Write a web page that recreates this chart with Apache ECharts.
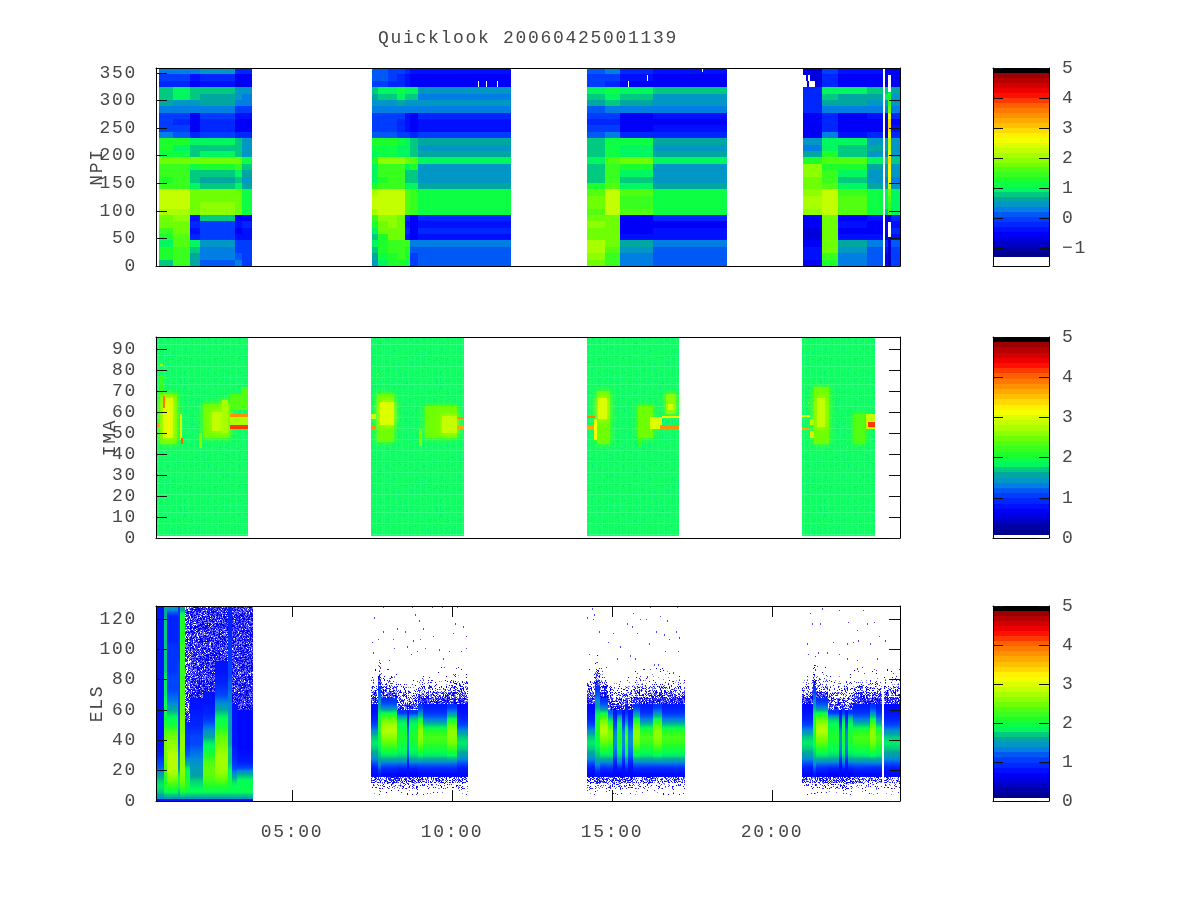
<!DOCTYPE html>
<html><head><meta charset="utf-8">
<style>html,body{margin:0;padding:0;background:#fff}#c{width:1200px;height:900px}</style>
<script src="https://cdn.jsdelivr.net/npm/echarts@6/dist/echarts.min.js"></script></head><body><div id="c"></div>
<script>
// ---------- tick labels ----------
const titleText='Quicklook 20060425001139';
const timeTicks=[5,10,15,20];
const timeLabels=['05:00','10:00','15:00','20:00'];
const npiTicks=[0,50,100,150,200,250,300,350];
const imaTicks=[0,10,20,30,40,50,60,70,80,90];
const elsTicks=[0,20,40,60,80,100,120];
const npiBarTicks=[-1,0,1,2,3,4,5];
const barTicks=[0,1,2,3,4,5];

// ---------- NPI: log counts, 31 sectors, listed top sector first, one list per time span ----------
const npiEdges1=[0.84,1.29,1.81,2.13,3.22,3.43,3.74];
const npiPass1=[
[.2,0,-.2,.8,.7,.6,.3,0,-.1,0,.2,1.2,1.2,1.1,1.8,1.5,1.4,1.3,1.4,2.2,2.3,2.3,2.1,1.8,1.7,1.5,1.2,1,1.2,1.3,.8],
[.2,-.1,-.3,1,.9,.5,.3,-.1,-.2,-.1,.1,1.2,1,1.1,1.8,1.5,1.4,1.4,1.5,2.2,2.3,2.3,2.1,1.9,1.8,1.7,1.6,1.6,1.5,1.5,1.5],
[.3,-.4,-.5,.8,.7,.5,.2,-.5,-.6,-.6,-.2,.9,.8,.8,1.7,1.1,.7,.7,.9,1.7,1.8,1.8,1.7,-.4,-.2,-.4,-.2,1,.8,.6,.6],
[.4,-.3,-.4,.8,.6,.6,.2,-.1,-.3,-.3,0,1,.8,.9,1.7,1.2,.8,.6,.8,1.75,1.75,1.85,1.85,.7,0,0,-.1,.4,.3,.2,.1],
[-.3,-.6,-.7,.5,.4,.2,0,-.4,-.6,-.6,-.3,.8,.8,.7,1.8,1.5,1,.8,.9,1.75,1.7,1.7,1.7,-.5,-.4,-.5,-.4,0,0,.1,.3],
[-.3,-.5,-.6,.4,.3,.2,0,-.4,-.6,-.6,-.3,.5,.5,.5,1.1,.7,.6,.5,.6,1.15,1.15,1.15,1.15,-.5,-.3,-.4,-.4,0,0,-.1,-.1]];
const npiEdges2=[7.5,7.7,8.01,8.27,8.53,8.69,8.95,11.84];
const npiPass2=[
[.1,.1,-.1,.8,.6,.5,.2,0,-.1,0,.1,1.2,1.1,1,1.3,1,1,.9,1.2,2.15,2.25,2.25,2.15,1.5,1.2,1,.7,.9,.7,.6,.5],
[.1,.1,-.1,.9,.7,.5,.2,0,-.1,0,.1,1.2,1.1,1.1,1.9,1.5,1.4,1.3,1.4,2.25,2.3,2.3,2.25,1.9,1.8,1.7,1.3,1.3,1.2,1.1,.9],
[0,0,-.2,.9,.7,.5,.2,0,-.1,0,.1,1.2,1.1,1.1,1.9,1.5,1.4,1.4,1.5,2.25,2.3,2.3,2.25,1.9,1.9,1.8,1.7,1.5,1.4,1.3,1.2],
[-.1,-.2,-.3,1.1,1,.6,.2,-.1,-.3,-.2,0,1.1,.9,1,1.9,1.5,1.4,1.4,1.5,2.25,2.3,2.3,2.25,1.8,1.8,1.8,1.7,1.5,1.5,1.4,1.3],
[-.3,-.4,-.4,.9,.8,.5,.2,-.4,-.4,-.4,-.1,1,.9,.9,1.8,.9,.7,.7,.9,1.55,1.6,1.6,1.55,-.3,-.4,-.3,-.4,1.4,1.3,1.2,1.1],
[-.4,-.6,-.6,.9,.8,.4,.2,-.6,-.6,-.6,-.3,.8,.7,.7,1.6,1.2,.8,.7,.9,1.4,1.4,1.4,1.4,-.5,-.5,-.5,-.5,.2,.1,0,-.1],
[-.4,-.5,-.6,.5,.3,.5,.2,-.2,-.4,-.4,-.1,.6,.4,.6,.9,.5,.5,.4,.6,1.05,1.05,1.05,1.05,-.2,-.4,-.3,-.4,.2,.1,.1,.1]];
const npiEdges3=[14.23,14.78,15.25,16.29,18.58];
const npiPass3=[
[.1,0,-.1,1,.8,.6,.1,-.1,-.2,-.1,.1,.7,.8,.8,1,.7,.8,.7,1.2,1.6,1.75,1.75,1.65,1.8,1.9,1.8,1.7,2.1,2.1,1.9,1.8],
[.2,0,-.2,1.1,.9,.7,.2,-.1,-.2,-.1,.2,1.1,1.1,1.1,1.6,1.5,1.5,1.4,1.6,2.3,2.3,2.3,2.2,1.8,1.8,1.7,1.7,1.7,1.6,1.4,1.4],
[-.3,-.4,-.5,.9,.7,.6,.2,-.5,-.5,-.5,-.2,1.1,.9,.9,1.7,1.2,.9,.8,.9,1.6,1.5,1.5,1.6,-.5,-.6,-.5,-.4,.6,.5,.3,.2],
[-.4,-.5,-.6,.8,.5,.5,.2,-.4,-.5,-.4,-.2,.6,.5,.6,.9,.5,.5,.4,.6,1.05,1.05,1.05,1.05,-.3,-.5,-.4,-.4,.2,.1,.1,.1]];
const npiEdges4=[20.98,21.55,22.07,22.96,23.46];
const npiPass4=[
[-.7,-.7,-.7,-.2,-.2,-.2,-.3,-.6,-.6,-.6,-.5,.5,.3,.6,1.2,2,1.9,1.8,1.8,1.95,2.05,2.05,1.95,-.6,-.6,-.7,-.7,-.5,-.4,-.4,-.5],
[0,-.2,-.3,1,.8,.6,.2,-.2,-.3,-.2,.2,1,1,1.2,1.6,1.2,1.5,1.5,1.6,2.25,2.3,2.3,2.25,1.8,1.8,1.7,1.7,1.8,1.7,1.4,1.2],
[-.4,-.5,-.5,.9,.6,.6,.2,-.5,-.6,-.6,-.4,.9,.8,.8,1.6,1.2,.9,.7,.9,1.5,1.55,1.55,1.55,-.5,-.4,-.6,-.4,.6,.5,.2,.2],
[-.4,-.5,-.5,.8,.6,.5,.2,-.4,-.5,-.5,-.3,.5,.6,.4,.9,.6,.5,.4,.6,1.05,1.05,1.05,1.05,-.4,-.5,-.5,-.4,.2,.1,.1,.1]];
const npiEdges5=[23.53,23.64,23.71,24];
const npiPass5=[
[-.5,-.5,-.5,.8,.9,.4,.3,-.6,-.6,-.6,-.5,.5,.4,.3,.7,.5,.4,.3,.5,.9,.9,.9,.85,-.6,-.6,-.5,-.7,-.3,-.4,-.5,-.5],
[-.6,-.7,-.7,1,1.3,1.5,1.8,2.6,3,3,2.6,2.2,2.2,2.5,2.9,2.7,2.6,2.6,2.3,1.75,1.65,1.5,1.4,-.8,-.8,-.9,-.7,-.8,-.9,-.9,-.9],
[-.5,-.6,-.6,.6,.5,.5,.2,-.3,-.5,-.4,-.2,.5,.4,.5,.8,.4,.5,.3,.5,1,1,1,1,-.3,-.4,-.3,-.4,.1,0,0,0]];
// gaps without data: [t0,t1,y0,y1]
const npiGaps=[[20.94,21.05,335,347],[21.12,21.2,335,347],[20.98,21.1,324,335],[21.17,21.33,324,335],[23.64,23.71,315,347],[23.64,23.71,52,80],[10.8,10.82,324,335],[11.05,11.07,324,335],[11.42,11.44,324,335],[15.5,15.53,324,335],[16.1,16.13,335,347],[17.8,17.83,352,359]];

// ---------- IMA: background level per pass, then the readable features ----------
const imaPasses=[[0.75,3.64],[7.48,10.38],[14.22,17.1],[20.94,23.22]];
const imaBackground=1.9;
const imaFeatures=[
// pass 1
[.87,1.4,45,69,2.5],[.98,1.29,48,67,2.95],[.96,1.04,62,68,3.9],[1.08,1.18,50,60,3.3],[.75,.83,53,55,3.8],[.87,.98,69,78,2.25],[.88,.96,82,83,2.7],
[1.5,1.56,47,59,3.0],[1.53,1.6,45,48,4.0],[2.1,2.2,43,50,2.6],[2.23,3.06,48,64,2.5],[2.5,2.8,51,60,2.9],[2.8,3.0,50,66,2.75],[3.06,3.64,61,69,2.35],[3.06,3.64,54,58,2.75],[3.06,3.64,57.7,59.3,3.8],[3.06,3.64,52.2,53.8,4.15],[3.4,3.64,66,72,2.4],
// pass 2
[7.65,8.2,46,69,2.5],[7.75,8.2,54,65,2.95],[7.48,7.62,52,53.5,3.8],[7.48,7.62,57,59,2.8],[8.98,9.05,44,52,2.6],[9.15,10.15,48,63,2.5],[9.68,10.15,50,58.5,2.85],[10.15,10.38,57,58,3.8],[10.15,10.38,52,53.6,3.7],[7.65,7.72,78,79,2.6],
// pass 3
[14.52,14.94,45,70,2.5],[14.57,14.83,57,67,2.95],[14.22,14.46,57.5,58.5,3.9],[14.22,14.44,51.8,53.5,3.7],[14.44,14.52,46.7,57,3.1],[15.8,15.95,44,48,2.2],[15.82,16.29,48,63,2.5],[16.2,16.55,52,58,2.95],[16.55,17.1,57.5,58.5,3.3],[16.5,17.1,52,54,3.8],[16.7,17,59,69,2.55],[16.75,16.9,61,64,3.0],
// pass 4
[20.94,21.2,58,58.6,3.1],[20.94,21.2,51.8,52.7,3.7],[21.2,21.35,54,57,3.0],[21.2,21.35,48,51,3.2],[21.3,21.77,45,72,2.5],[21.4,21.66,53,67,2.9],[22.33,22.35,43,44,2.6],[22.55,22.9,45,59,2.3],[22.93,23.22,52,59,2.85],[23.0,23.22,53,55.5,4.1],[20.98,21.0,64,65,2.7],[21.12,21.14,64,65,2.7]];

// ---------- ELS: level by 4-unit energy row, lowest first. A negative value is a sparse row: that share of the pixels is filled ----------
const elsD=[0,-.03,-.15,-.5,.75,.85,1.2,1.5,1.7,1.8,1.7,1.4,1.1,.9,.8,.75,-.9,-.6,-.35,-.15,-.04,-.01,0,0];
const elsQ=[0,-.03,-.15,-.5,.75,.95,1.4,1.8,2,2.2,2.3,2.1,1.7,1.3,1,.85,-.9,-.6,-.35,-.15,-.04,-.01,0,0];
const elsH=[0,-.05,-.2,-.6,.75,.95,1.4,1.8,2.1,2.4,2.6,2.8,2.7,2.4,1.9,1.3,1,-.85,-.55,-.3,-.1,-.02,0,0];
const elsS=[0,-.08,-.3,-.7,.85,1.2,1.5,1.7,1.8,1.9,2,2.1,2.1,2,1.8,1.6,1.4,1.2,1,-.9,-.6,-.3,-.12,-.03];
const elsM=[0,-.05,-.3,-.7,.7,.9,1.4,1.75,1.9,2,2.1,2,1.9,1.7,1,-.8,-.55,-.35,-.15,-.05,-.01,0,0,0];
const elsC=[0,-.05,-.3,-.7,.75,.8,.9,1.2,1.3,1.4,1.4,1.3,1.1,.9,.8,-.75,-.5,-.3,-.15,-.05,-.01,0,0,0];
const elsB=[0,-.03,-.15,-.5,.75,.95,1.4,1.85,2.2,2.5,2.6,2.6,2.4,1.9,1.4,1,-.9,-.65,-.4,-.2,-.05,-.01,0,0];
const elsT=[0,-.05,-.25,-.65,.75,1,1.4,1.8,2,2.3,2.5,2.5,2.2,1.7,1.2,-.85,-.65,-.45,-.25,-.08,-.02,0,0,0];
const elsSpans2=[[7.47,7.7,elsD],[7.7,7.77,elsS],[7.77,8.27,elsH],[8.27,8.58,elsM],[8.58,8.67,elsC],[8.67,8.95,elsM],[8.95,9.1,elsB],[9.1,9.83,elsQ],[9.83,10.17,elsB],[10.17,10.51,elsD]];
const elsSpans3=[[14.23,14.47,elsD],[14.47,14.63,elsS],[14.63,14.89,elsH],[14.89,15.04,elsT],[15.04,15.15,elsC],[15.15,15.3,elsM],[15.3,15.41,elsC],[15.41,15.51,elsQ],[15.51,15.67,elsC],[15.67,15.88,elsB],[15.88,16.29,elsQ],[16.29,16.55,elsB],[16.55,17.28,elsQ]];
const elsSpans4=[[20.95,21.29,elsD],[21.29,21.38,elsS],[21.38,21.76,elsH],[21.76,22.08,elsM],[22.08,22.18,elsC],[22.18,22.28,elsM],[22.28,22.39,elsC],[22.39,22.54,elsM],[22.54,23.06,elsQ],[23.06,23.25,elsB],[23.25,23.45,elsQ],[23.51,24,elsD]];
// first pass, all 32 rows up to 128
const elsEdges1=[.75,1,1.1,1.45,1.5,1.66,1.81,2.23,2.59,3.01,3.11,3.27,3.77];
const elsPass1=[
[1.4,1.7,1.8,1.7,1.5,1.2,1.1,.9,.8,.8,.8,.8,.8,.8,.8,.8,.8,.8,.8,.8,.8,.8,.8,.8,.8,.8,.8,.8,.8,.8,.8,.8],
[1.5,1.9,2.1,2.1,2.2,2.3,2.4,2.5,2.5,2.5,2.4,2.3,2.1,2,1.9,1.9,1.9,1.8,1.8,1.8,1.8,1.7,1.7,1.7,1.7,1.7,1.7,1.7,1.7,1.7,1.6,1.6],
[1.5,1.9,2.2,2.5,2.7,2.8,2.8,2.8,2.7,2.6,2.5,2.3,2,1.9,1.7,1.5,1.3,1.2,1.1,1.1,1.1,1,1,1,1,1,.9,.9,.9,.9,.9,1.4],
[1.5,1.7,1.9,1.9,1.8,1.5,1.4,1.3,1.2,1.1,1.1,1.1,1.1,1.1,1.1,1.1,1.1,1.1,1.1,1.1,1.1,1.1,1.1,1,1,1,1,1,1,1,1,1],
[1.5,2,2.3,2.5,2.6,2.6,2.6,2.6,2.6,2.6,2.6,2.5,2.5,2.5,2.4,2.4,2.4,2.3,2.3,2.3,2.2,2.2,2.2,2.2,2.2,2.2,2.1,2.1,2.1,2.1,2,1.6],
[1.5,1.9,2.1,2,1.9,1.8,1.5,1.2,1.1,1,1,.95,.9,-.9,-.8,-.8,-.75,-.75,-.75,-.75,-.75,-.7,-.7,-.7,-.7,-.7,-.7,-.7,-.7,-.75,-.75,-.75],
[1.5,1.9,1.8,1.7,1.5,1.5,1.4,1.3,1.2,1.1,1.1,1,.9,.9,.85,.8,.8,-.96,-.95,-.92,-.92,-.92,-.92,-.92,-.92,-.92,-.92,-.92,-.92,-.92,-.92,-.92],
[1.5,1.9,2.1,2.3,2.4,2.4,2.3,2.1,1.9,1.8,1.6,1.4,1.2,1,.9,.85,.8,.8,-.96,-.95,-.93,-.93,-.93,-.93,-.93,-.92,-.92,-.92,-.92,-.92,-.92,-.92],
[1.5,1.9,2.1,2.4,2.6,2.7,2.7,2.7,2.6,2.5,2.4,2.2,2,1.9,1.7,1.5,1.3,1.1,1,.9,.85,.8,.8,-.96,-.95,-.95,-.95,-.93,-.93,-.93,-.93,-.93],
[1.5,1.9,2,2,1.9,1.8,1.7,1.7,1.7,1.6,1.6,1.5,1.5,1.5,1.4,1.4,1.3,1.3,1.2,1.2,1.1,1.1,1.1,1,1,1,1,.9,.9,.9,.9,.9],
[1.5,1.9,1.9,1.7,1.4,1.1,1,.9,.85,.8,.8,.8,.8,.8,.8,.8,-.96,-.96,-.96,-.96,-.96,-.96,-.96,-.96,-.96,-.96,-.96,-.96,-.96,-.96,-.96,-.96],
[1.5,1.9,1.9,1.85,1.6,1.1,.85,.8,.75,.75,.75,.75,.75,.75,.75,-.96,-.96,-.96,-.96,-.96,-.96,-.96,-.96,-.96,-.96,-.96,-.96,-.96,-.96,-.96,-.96,-.96]];
// thin blue floor under the first pass: [t0,t1,y0,y1,value]
const elsFloor=[.75,3.77,0,1.5,.8];
// lone counts above the main population: [hour, energy row]
const elsDots=[[7.57,120],[7.83,111],[8.29,113],[8.54,111],[8.17,106],[7.7,106],[7.51,104],[7.54,97],[7.73,92],[8.02,92],[8.19,100],[8.6,101],[8.71,96],[8.9,98],[9.17,100],[9.42,108],[9.6,99],[9.92,98],[9.71,93],[10.04,110],[10.33,114],[10.44,108],[10.27,98],[10.44,100],[10.09,116],[8.98,118],[8.84,122],[9.1,113],[8.79,105],[9,106],[7.85,127],[8.74,127],[9.36,127],[9.68,127],[10.15,127],
[14.23,120],[14.44,122],[14.42,119],[14.58,111],[15.04,110],[14.89,104],[15.48,116],[15.62,114],[15.86,119],[16.07,119],[16.5,121],[16.71,118],[16.61,109],[17,111],[16.78,106],[17.1,107],[16.38,111],[15.77,110],[15.25,101],[16.17,103],[16.66,98],[17.05,98],[15.57,95],[15.72,93],[16.3,89],[16.45,89],[16.19,86],[16.92,84],[15.67,123],[14.37,126],[16.19,127],[17.02,127],[14.28,96],[15.15,93],
[21.19,123],[21.55,126],[22.08,125],[22.84,125],[21.24,116],[21.5,116],[22.37,117],[22.65,112],[22.96,116],[23.19,117],[23.33,108],[23.53,105],[23.06,103],[22.7,105],[22.54,104],[22.34,103],[21.92,104],[21.71,97],[21.45,97],[21.09,103],[21.14,96],[22.08,96],[22.34,93],[22.65,92],[23.27,93],[22.65,86],[23.19,86],[21.4,88]];

// ---------- build cells [t0,t1,y0,y1,value,...] ----------
const FONT='"Liberation Mono"', TXT='#474747';
const npiCells=[], imaCells=[], elsCells=[];
function addNpi(edges,cols){const h=359/31;cols.forEach((c,i)=>c.forEach((v,r)=>{const k=30-r;npiCells.push([edges[i],edges[i+1],k*h,(k+1)*h,v]);}));}
addNpi(npiEdges1,npiPass1);addNpi(npiEdges2,npiPass2);addNpi(npiEdges3,npiPass3);addNpi(npiEdges4,npiPass4);addNpi(npiEdges5,npiPass5);
npiGaps.forEach(g=>npiCells.push([g[0],g[1],g[2],g[3],null]));
imaPasses.forEach(p=>imaCells.push([p[0],p[1],1,96,imaBackground]));
imaFeatures.forEach(f=>imaCells.push(f));
function addEls(t0,t1,col){col.forEach((v,r)=>{if(v!==0)elsCells.push([t0,t1,r*4,(r+1)*4,v,r>0?col[r-1]:v,r<col.length-1?col[r+1]:v]);});}
elsPass1.forEach((c,i)=>addEls(elsEdges1[i],elsEdges1[i+1],c));
[elsSpans2,elsSpans3,elsSpans4].forEach(s=>s.forEach(x=>addEls(x[0],x[1],x[2])));
elsCells.push(elsFloor);
elsDots.forEach(d=>elsCells.push([d[0],d[0]+.03,d[1],d[1]+1,-1]));

// ---------- colour scale ----------
const stops=[[0,0,0,130],[.125,0,0,255],[.21,0,70,255],[.26,0,140,220],[.31,0,170,150],[.36,0,255,90],[.41,30,255,40],[.495,120,255,0],[.56,190,255,0],[.63,255,255,0],[.71,255,180,0],[.8,255,100,0],[.865,255,0,0],[.966,150,0,0],[.98,120,0,0],[.985,0,0,0],[1,0,0,0]];
const LEVELS=38;
function colorOf(v,lo,hi,smooth){
  let f=(v-lo)/(hi-lo); f=Math.max(0,Math.min(1,f));
  if(!smooth&&f<.985) f=(Math.floor(f*LEVELS)+.5)/LEVELS;
  for(let i=1;i<stops.length;i++){ if(f<=stops[i][0]){const a=stops[i-1],b=stops[i],u=(f-a[0])/(b[0]-a[0]);
    return 'rgb('+[1,2,3].map(k=>Math.round(a[k]+(b[k]-a[k])*u)).join(',')+')';}}
  return '#000';
}
// textures: the speckle of sparse rows and the fine mottling of the IMA map
function hash(x,y){let h=(x*374761393+y*668265263)|0;h=Math.imul(h^(h>>>13),1274126177);return ((h^(h>>>16))>>>0)/4294967296;}
function makeTexture(fn){const c=document.createElement('canvas');c.width=c.height=128;const x=c.getContext('2d');const im=x.createImageData(128,128);
  for(let j=0;j<128;j++)for(let i=0;i<128;i++){const p=fn(i,j),k=(j*128+i)*4;im.data[k]=p[0];im.data[k+1]=p[1];im.data[k+2]=p[2];im.data[k+3]=p[3];}
  x.putImageData(im,0,0);return c;}
const sparseCache={};
function sparseFill(p){const q=Math.round(p*50)/50; if(q>=1) return 'rgb(70,70,255)'; if(!sparseCache[q]) sparseCache[q]=makeTexture((i,j)=>{const h=hash(i,j);const on=h<q;
   if(!on) return [0,0,0,0]; const s=h/q; return s<.45?[0,0,235,255]:s<.75?[50,50,255,255]:[130,130,255,255];}); return {image:sparseCache[q],repeat:'repeat'};}
const imaTex=makeTexture((i,j)=>{const h=hash(i+7,j+3);const lineH=(j%11===0),lineV=(i%6===0);
   if(lineH) return [50,255,125,255]; if(lineV) return [32,255,112,255]; return h<.1?[8,238,120,255]:[15,255,100,255];});
function softShadow(c){return {shadowBlur:7,shadowColor:c};}

function cellSeries(data,lo,hi,gi,name,mode){
  return {type:'custom',name:name,xAxisIndex:gi*2,yAxisIndex:gi*2,data:data,z:1,silent:true,animation:false,clip:true,progressive:0,
    dimensions:['t0','t1','y0','y1','v'],encode:{x:[0,1],y:[2,3]},
    renderItem:(p,api)=>{
      const d=data[p.dataIndex];
      const a=api.coord([d[0],d[2]]),b=api.coord([d[1],d[3]]);
      const x0=Math.round(a[0]),x1=Math.max(x0+1,Math.round(b[0])),y1=Math.round(a[1]),y0=Math.min(y1-1,Math.round(b[1]));
      const raw=d[4]; let style={};
      if(raw===null) style.fill='#fff';
      else if(mode==='els'&&raw<0) style.fill=sparseFill(-raw);
      else if(mode==='els'&&d.length>5){
        const up=d[6]<0?raw:(raw+d[6])/2, dn=d[5]<0?raw:(raw+d[5])/2;
        style.fill={type:'linear',x:0,y:0,x2:0,y2:1,colorStops:[{offset:0,color:colorOf(up,lo,hi,true)},{offset:.5,color:colorOf(raw,lo,hi,true)},{offset:1,color:colorOf(dn,lo,hi,true)}]};
      }
      else if(mode==='ima'&&d.length===5&&raw===imaBackground&&d[3]===96) style.fill={image:imaTex,repeat:'repeat'};
      else {
        style.fill=colorOf(raw,lo,hi);
        if(mode==='ima'){
          const edge=imaPasses.some(q=>Math.abs(d[0]-q[0])<.02||Math.abs(d[1]-q[1])<.02);
          const big=(d[1]-d[0])>.12&&(d[3]-d[2])>6;
          if(big&&!edge) Object.assign(style,softShadow(style.fill));
        }
      }
      return {type:'rect',shape:{x:x0,y:y0,width:x1-x0,height:y1-y0},style:style};
    }};
}
function barCells(lo,hi){const out=[];const n=LEVELS;for(let i=0;i<n;i++){const a=lo+(hi-lo)*i/n,b=lo+(hi-lo)*(i+1)/n;out.push([0,1,a,b,(a+b)/2]);}
  out.push([0,1,lo+(hi-lo)*.985,hi,hi]);return out;}

const panels=[{top:68,h:198,max:359,ticks:npiTicks,name:'NPI',gap:49,xt:[]},{top:337,h:201,max:96,ticks:imaTicks,name:'IMA',gap:36,xt:[]},{top:606,h:195,max:128.5,ticks:elsTicks,name:'ELS',gap:49,xt:timeTicks}];
const grid=[],xAxis=[],yAxis=[],series=[];
const line={show:true,lineStyle:{color:'#000',width:1},onZero:false};
const tick=(vals,show=true)=>({show:show,inside:true,length:11,customValues:vals,lineStyle:{color:'#111',width:1}});
const lab=(extra)=>Object.assign({fontFamily:FONT,fontSize:18,color:TXT},extra);
panels.forEach((p,i)=>{
  grid.push({left:156,width:744,top:p.top,height:p.h});
  const showLab=i===2;
  xAxis.push({type:'value',gridIndex:i,min:.75,max:24,position:'bottom',z:5,axisLine:line,splitLine:{show:false},axisTick:tick(p.xt,p.xt.length>0),
    axisLabel:lab({show:showLab,margin:21,customValues:p.xt,formatter:v=>timeLabels[timeTicks.indexOf(v)]||''})});
  xAxis.push({type:'value',gridIndex:i,min:.75,max:24,position:'top',z:5,axisLine:line,splitLine:{show:false},axisTick:tick(p.xt,p.xt.length>0),axisLabel:{show:false}});
  yAxis.push({type:'value',gridIndex:i,min:0,max:p.max,position:'left',z:5,axisLine:line,splitLine:{show:false},axisTick:tick(p.ticks),
    axisLabel:lab({margin:19,customValues:p.ticks}),name:p.name,nameLocation:'middle',nameGap:p.gap,nameMoveOverlap:false,nameTextStyle:lab({})});
  yAxis.push({type:'value',gridIndex:i,min:0,max:p.max,position:'right',z:5,axisLine:line,splitLine:{show:false},axisTick:tick(p.ticks),axisLabel:{show:false}});
});
series.push(cellSeries(npiCells,-1.3,5,0,'NPI'),cellSeries(imaCells,.08,5,1,'IMA','ima'),cellSeries(elsCells,.08,5,2,'ELS','els'));
// colour bars
const bars=[{top:68,h:198,min:-1.6,lo:-1.3,ticks:npiBarTicks},{top:337,h:201,min:0,lo:.08,ticks:barTicks},{top:606,h:195,min:0,lo:.08,ticks:barTicks}];
bars.forEach((b,j)=>{
  const i=j+3;
  grid.push({left:993,width:56,top:b.top,height:b.h});
  xAxis.push({type:'value',gridIndex:i,min:0,max:1,position:'bottom',z:5,axisLine:line,splitLine:{show:false},axisTick:{show:false},axisLabel:{show:false}});
  xAxis.push({type:'value',gridIndex:i,min:0,max:1,position:'top',z:5,axisLine:line,splitLine:{show:false},axisTick:{show:false},axisLabel:{show:false}});
  const t2=Object.assign(tick(b.ticks),{length:10});
  yAxis.push({type:'value',gridIndex:i,min:b.min,max:5,position:'right',z:5,axisLine:line,splitLine:{show:false},axisTick:t2,
    axisLabel:lab({margin:13,customValues:b.ticks,formatter:v=>String(v).replace('-','\u2212')})});
  yAxis.push({type:'value',gridIndex:i,min:b.min,max:5,position:'left',z:5,axisLine:line,splitLine:{show:false},axisTick:t2,axisLabel:{show:false}});
  series.push(cellSeries(barCells(b.lo,5),b.lo,5,i,'bar'+j));
});

// the reference's text has a wide character pitch
const origGetContext=HTMLCanvasElement.prototype.getContext;
HTMLCanvasElement.prototype.getContext=function(t,o){const x=origGetContext.call(this,t,o);if(t==='2d'&&x&&'letterSpacing' in x&&this.dataset.ls!=='1'){x.letterSpacing='1.7px';this.dataset.ls='1';}return x;};
const chart=echarts.init(document.getElementById('c'),null,{renderer:'canvas',width:1200,height:900,devicePixelRatio:1});
chart.setOption({animation:false,backgroundColor:'#fff',
  title:{text:titleText,left:373,top:23,textStyle:{fontFamily:FONT,fontSize:18,fontWeight:'normal',color:TXT}},
  grid,xAxis,yAxis,series});
</script></body></html>
